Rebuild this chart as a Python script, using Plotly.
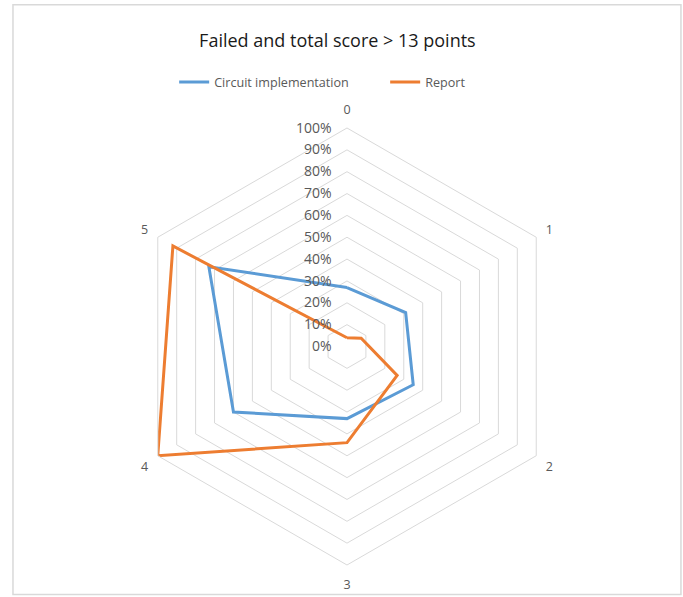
import plotly.graph_objects as go

# Data
categories = ['0', '1', '2', '3', '4', '5']
circuit_values = [0.27, 0.31, 0.35, 0.33, 0.60, 0.73]
report_values = [0.04, 0.075, 0.265, 0.44, 1.00, 0.92]
radial_ticks = [i / 10 for i in range(11)]

FONT = 'Open Sans'
GRID = '#d9d9d9'
TEXT = '#595959'


def closed(values):
    return values + values[:1]


fig = go.Figure()

fig.add_trace(go.Scatterpolar(
    r=closed(circuit_values),
    theta=closed(categories),
    mode='lines',
    name='Circuit implementation',
    line={'color': '#5b9bd5', 'width': 3},
))

fig.add_trace(go.Scatterpolar(
    r=closed(report_values),
    theta=closed(categories),
    mode='lines',
    name='Report',
    line={'color': '#ed7d31', 'width': 3},
))

fig.update_layout(
    width=683,
    height=597,
    paper_bgcolor='white',
    plot_bgcolor='white',
    margin={'l': 0, 'r': 0, 't': 0, 'b': 0},
    font={'family': FONT, 'color': TEXT, 'size': 12},
    title={
        'text': 'Failed and total score > 13 points',
        'x': 0.494,
        'xanchor': 'center',
        'y': 0.931,
        'yanchor': 'middle',
        'font': {'size': 18, 'color': '#1a1a1a', 'family': FONT},
    },
    legend={
        'orientation': 'h',
        'x': 0.255,
        'xanchor': 'left',
        'y': 0.862,
        'yanchor': 'middle',
        'font': {'size': 12.6, 'color': TEXT},
        'itemwidth': 30,
        'entrywidth': 166,
        'tracegroupgap': 0,
    },
    polar={
        'domain': {'x': [0.1881, 0.8280], 'y': [0.0536, 0.7856]},
        'gridshape': 'linear',
        'bgcolor': 'white',
        'angularaxis': {
            'rotation': 90,
            'direction': 'clockwise',
            'showgrid': False,
            'showline': True,
            'linecolor': GRID,
            'linewidth': 1,
            'ticks': 'outside',
            'ticklen': 8,
            'tickcolor': 'rgba(0,0,0,0)',
            'tickfont': {'size': 12.5, 'color': TEXT},
        },
        'radialaxis': {
            'range': [0, 1],
            'tickvals': radial_ticks,
            'tickformat': '.0%',
            'angle': 90,
            'tickangle': 90,
            'side': 'counterclockwise',
            'showline': False,
            'ticks': 'outside',
            'ticklen': 10,
            'tickcolor': 'rgba(0,0,0,0)',
            'gridcolor': GRID,
            'gridwidth': 1,
            'tickfont': {'size': 14, 'color': TEXT},
        },
    },
    shapes=[{
        'type': 'rect',
        'xref': 'paper', 'yref': 'paper',
        'x0': 0.019, 'x1': 0.997, 'y0': 0.004, 'y1': 0.992,
        'line': {'color': GRID, 'width': 1.5},
    }],
)

fig.write_html(
    'out.html',
    config={'displayModeBar': False},
    post_script="document.body.style.margin='0';",
)
